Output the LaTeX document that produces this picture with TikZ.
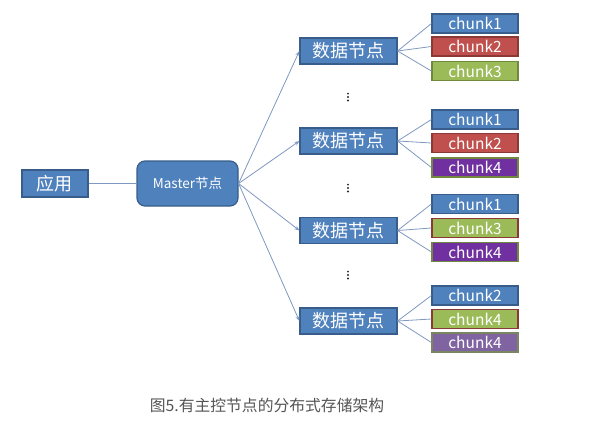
\documentclass[tikz,border=0pt]{standalone}
\usepackage{fontspec}
\setmainfont{Noto Sans CJK SC}
\usetikzlibrary{arrows.meta}
\definecolor{bfill}{HTML}{4F81BD}
\definecolor{bdraw}{HTML}{385D8A}
\definecolor{rfill}{HTML}{C0504D}
\definecolor{rdraw}{HTML}{8C3836}
\definecolor{gfill}{HTML}{9BBB59}
\definecolor{gdraw}{HTML}{71893F}
\definecolor{pfill}{HTML}{7030A0}
\definecolor{lpfill}{HTML}{8064A2}
\definecolor{lpdraw}{HTML}{7A8660}
\definecolor{wire}{HTML}{7F98C0}
\definecolor{captxt}{HTML}{555555}
\begin{document}
\begin{tikzpicture}[x=1pt,y=-1pt,
  box/.style={fill=bfill,draw=bdraw,line width=1.2pt,text=white,inner sep=0pt,anchor=center},
  appbox/.style={box,minimum width=66pt,minimum height=27pt,font=\fontsize{18}{20}\selectfont},
  masterbox/.style={box,rounded corners=8pt,minimum width=101pt,minimum height=45pt,font=\fontsize{13.5}{15}\selectfont},
  databox/.style={box,minimum width=97pt,minimum height=26pt,font=\fontsize{18}{20}\selectfont},
  chunkbox/.style={box,minimum width=86pt,minimum height=19pt,font=\fontsize{15.5}{17}\selectfont},
  cblue/.style={chunkbox},
  cred/.style={chunkbox,fill=rfill,draw=rdraw},
  cgreen/.style={chunkbox,fill=gfill,draw=gdraw},
  cgreenr/.style={chunkbox,fill=gfill,draw=rdraw},
  cpurple/.style={chunkbox,fill=pfill,draw=gdraw},
  clpurple/.style={chunkbox,fill=lpfill,draw=lpdraw},
  wireline/.style={draw=wire,line width=0.8pt},
  arrowline/.style={wireline,-{Stealth[length=5pt,width=4pt]}},
  dotspot/.style={inner sep=0pt,minimum size=0pt},
  dotfill/.style={fill=black!85}
]
\useasboundingbox (0,0) rectangle (590,429);
\node[appbox] (app) at (55,183.5) {应用};
\node[masterbox] (master) at (187.5,183.5) {Master节点};
\node[databox] (d1) at (348.5,51) {数据节点};
\node[databox] (d2) at (348.5,141) {数据节点};
\node[databox] (d3) at (348.5,230.5) {数据节点};
\node[databox] (d4) at (348.5,321) {数据节点};

\node[cblue] (c11) at (475,23.5) {chunk1};
\node[cred] (c12) at (475,46.5) {chunk2};
\node[cgreen] (c13) at (475,71) {chunk3};

\node[cblue] (c21) at (475,119.5) {chunk1};
\node[cred] (c22) at (475,143) {chunk2};
\node[cpurple] (c23) at (475,167.5) {chunk4};

\node[cblue] (c31) at (475,204) {chunk1};
\node[cgreenr] (c32) at (475,228) {chunk3};
\node[cpurple] (c33) at (475,252) {chunk4};

\node[cblue] (c41) at (475,295.5) {chunk2};
\node[cgreenr] (c42) at (475,319) {chunk4};
\node[clpurple] (c43) at (475,342.5) {chunk4};

\node[dotspot] (v1) at (348,97) {};
\node[dotspot] (v2) at (348,188) {};
\node[dotspot] (v3) at (348,275) {};
\foreach \v in {v1,v2,v3}{
  \fill[dotfill] (\v) ++(0,-3.4) circle (1.1pt);
  \fill[dotfill] (\v) circle (1.1pt);
  \fill[dotfill] (\v) ++(0,3.4) circle (1.1pt);
}

\node[text=captxt,font=\fontsize{15.8}{17}\selectfont,inner sep=0pt] (cap) at (267,405) {图5.有主控节点的分布式存储架构};

\draw[wireline] (app.east) -- (master.west);
\foreach \d in {d1,d2,d3,d4}{
  \draw[arrowline] (master.east) -- (\d.west);
}
\foreach \d/\c in {d1/c11,d1/c12,d1/c13,d2/c21,d2/c22,d2/c23,d3/c31,d3/c32,d3/c33,d4/c41,d4/c42,d4/c43}{
  \draw[wireline] (\d.east) -- (\c.west);
}
\end{tikzpicture}
\end{document}
